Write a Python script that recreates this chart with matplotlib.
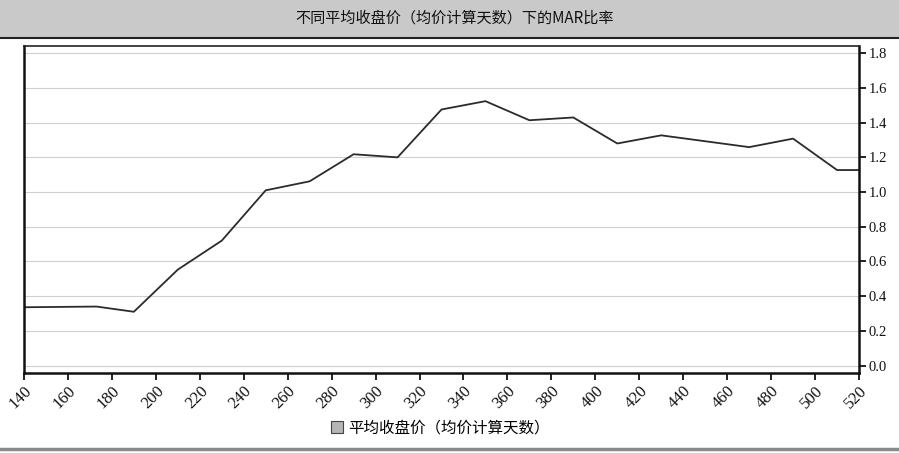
import matplotlib
matplotlib.use('Agg')
from matplotlib import pyplot as plt
from matplotlib.patches import Rectangle
from matplotlib.lines import Line2D

# data
days = [140, 173, 190, 210, 230, 250, 270, 290, 310, 330, 350, 370,
        390, 410, 430, 450, 470, 490, 510, 520]
mar = [0.336, 0.34, 0.31, 0.553, 0.72, 1.01, 1.062, 1.218, 1.20, 1.476,
       1.524, 1.414, 1.43, 1.28, 1.327, 1.293, 1.259, 1.308, 1.127, 1.127]
x_ticks = list(range(140, 521, 20))
y_ticks = [0.0, 0.2, 0.4, 0.6, 0.8, 1.0, 1.2, 1.4, 1.6, 1.8]

title = '不同平均收盘价（均价计算天数）下的MAR比率'
series_label = '平均收盘价（均价计算天数）'

cjk = ['Noto Sans CJK SC', 'DejaVu Sans']
serif = ['Liberation Serif', 'DejaVu Serif']

fig = plt.figure(figsize=(8.99, 4.53), dpi=100)
fig.patch.set_facecolor('white')

# gray title band with a dark rule under it
fig.patches.append(Rectangle((0, 1 - 37 / 453), 1, 37 / 453, transform=fig.transFigure,
                             facecolor='#c9c9c9', edgecolor='none', zorder=0))
fig.lines.append(Line2D([0, 1], [1 - 38 / 453] * 2, transform=fig.transFigure,
                        color='#222222', linewidth=1.5))
fig.lines.append(Line2D([0, 1], [1 - 449 / 453] * 2, transform=fig.transFigure,
                        color='#8a8a8a', linewidth=2.5))
fig.text(455 / 899, 1 - 18 / 453, title, ha='center', va='center',
         fontsize=10.9, family=cjk, color='#111111')

ax = fig.add_axes([24 / 899, 1 - 373 / 453, 835 / 899, 327 / 453])
ax.plot(days, mar, color='#2b2b2b', linewidth=1.3, label=series_label)

ax.set_xlim(140, 520)
ax.set_ylim(-0.043, 1.842)
ax.set_xticks(x_ticks)
ax.set_yticks(y_ticks)
ax.set_yticklabels(['%.1f' % v for v in y_ticks])
ax.yaxis.tick_right()
ax.grid(axis='y', color='#cfcfcf', linewidth=0.8)
ax.set_axisbelow(True)

for lbl in ax.get_xticklabels():
    lbl.set_rotation(45)
    lbl.set_ha('right')
    lbl.set_rotation_mode('anchor')
    lbl.set_fontsize(12)
for lbl in ax.get_yticklabels():
    lbl.set_fontsize(10.5)
for lbl in ax.get_xticklabels() + ax.get_yticklabels():
    lbl.set_family(serif)
    lbl.set_color('#111111')
ax.tick_params(axis='both', direction='out', length=5, width=1.3, color='#111111')
ax.tick_params(axis='y', pad=2)
ax.tick_params(axis='x', pad=2)

for side in ['left', 'right', 'bottom']:
    ax.spines[side].set_linewidth(1.8)
    ax.spines[side].set_color('#111111')
ax.spines['top'].set_linewidth(1.2)
ax.spines['top'].set_color('#222222')

handle = Rectangle((0, 0), 1, 1, facecolor='#b5b5b5', edgecolor='#444444', linewidth=0.8)
fig.legend([handle], [series_label], loc='center', bbox_to_anchor=(440 / 899, 1 - 428 / 453),
           frameon=False, prop={'family': cjk, 'size': 11.2},
           handlelength=0.8, handleheight=0.8, handletextpad=0.3)

fig.savefig('out.png', dpi=100)
